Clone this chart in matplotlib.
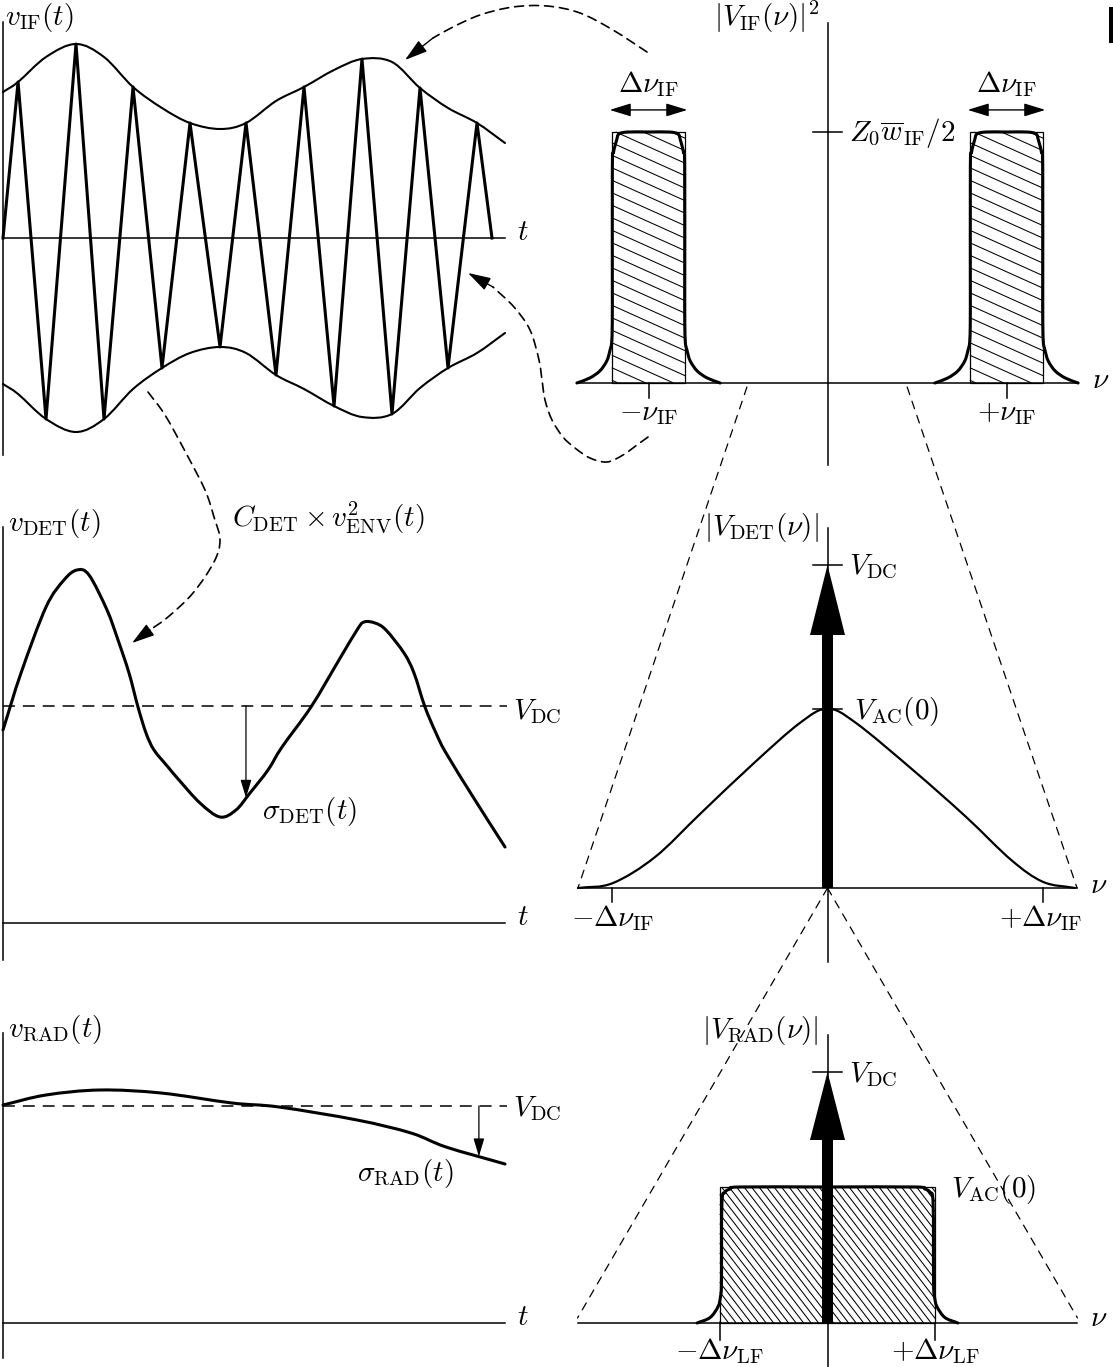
import numpy as np
import matplotlib
matplotlib.use("Agg")
import matplotlib.pyplot as plt
from matplotlib.path import Path
from matplotlib.patches import PathPatch, Rectangle, FancyArrow, ConnectionPatch
from matplotlib.collections import LineCollection

plt.rcParams["mathtext.fontset"] = "cm"
plt.rcParams["font.family"] = ["DejaVu Serif"]

# ---------------------------------------------------------------- data
# IF voltage: envelope amplitude and carrier turning points (arbitrary units)
env_t = [0.0, 0.30, 0.857, 1.454, 2.012, 2.590, 3.167, 3.725, 4.323, 4.841,
         5.438, 5.996, 6.594, 7.151, 7.749, 8.307, 8.865, 9.442, 10.0]
env_amp = [0.73, 0.78, 0.905, 0.97, 0.905, 0.755, 0.65, 0.575, 0.545, 0.575,
           0.685, 0.755, 0.84, 0.895, 0.88, 0.75, 0.65, 0.575, 0.475]
carrier_t = [0.0, 0.30, 0.857, 1.454, 2.012, 2.590, 3.167, 3.725, 4.323, 4.841,
             5.438, 5.996, 6.594, 7.151, 7.749, 8.307, 8.865, 9.442, 9.741]
carrier_v = [0.0, 0.78, -0.905, 0.97, -0.905, 0.755, -0.65, 0.575, -0.545, 0.575,
             -0.685, 0.755, -0.84, 0.895, -0.88, 0.75, -0.65, 0.575, 0.0]

# detector output voltage
V_DC = 1.085
det_t = [0.0, 0.359, 0.857, 1.215, 1.474, 1.713, 2.072, 2.291, 2.51, 2.689, 2.849,
         3.008, 3.287, 3.506, 3.924, 4.323, 4.641, 4.92, 5.279, 5.558, 6.135, 6.693,
         7.052, 7.191, 7.41, 7.629, 7.988, 8.187, 8.406, 8.625, 8.825, 9.402, 10.0]
det_v = [0.965, 1.25, 1.58, 1.715, 1.765, 1.74, 1.565, 1.415, 1.25, 1.08, 0.95,
         0.865, 0.78, 0.715, 0.6, 0.53, 0.565, 0.65, 0.765, 0.88, 1.08, 1.315,
         1.465, 1.505, 1.5, 1.465, 1.35, 1.25, 1.08, 0.95, 0.85, 0.615, 0.38]
sigma_det_t = 4.84

# post-detection (radiometer) output voltage
rad_t = [0.0, 0.857, 1.932, 3.147, 4.562, 5.498, 7.052, 8.127, 8.825, 10.0]
rad_v = [1.09, 1.14, 1.165, 1.15, 1.10, 1.08, 1.015, 0.95, 0.88, 0.795]
sigma_rad_t = 9.48

# IF power spectrum (frequency in units of nu_IF, level in units of Z0*w_IF/2)
nu_IF = 1.0
dnu_IF = 0.41
if_level = 1.0
if_prof_dnu = [0.0, 0.115, 0.165, 0.178, 0.195, 0.202, 0.202, 0.205, 0.215, 0.233, 0.272, 0.328, 0.40]
if_prof_lvl = [1.0, 1.0, 0.992, 0.968, 0.92, 0.857, 0.31, 0.171, 0.131, 0.088, 0.048, 0.02, 0.0]

# detector output spectrum (frequency in units of delta nu_IF, level in units of V_DC)
V_AC0_det = 0.555
det_nu = [-1.158, -0.997, -0.80, -0.587, -0.341, -0.128, 0.0, 0.132, 0.397, 0.643, 0.852, 1.0, 1.148]
det_lvl = [0.0, 0.015, 0.096, 0.232, 0.387, 0.511, V_AC0_det, 0.511, 0.365, 0.22, 0.087, 0.019, 0.0]

# radiometer output spectrum (frequency in units of delta nu_IF, level in units of V_DC)
dnu_LF = 0.5
V_AC0_rad = 0.542
lf_prof_dnu = [0.0, 0.405, 0.452, 0.476, 0.490, 0.492, 0.497, 0.508, 0.545, 0.605]
lf_prof_lvl = [1.0, 1.0, 0.985, 0.96, 0.88, 0.30, 0.19, 0.12, 0.04, 0.0]

# ---------------------------------------------------------------- helpers
W, H = 1113, 1367
FS = 21
fig = plt.figure(figsize=(W / 100, H / 100), dpi=100)
fig.patch.set_facecolor("white")


def panel(ox, oy, sx, sy):
    """Full-figure axes whose data origin sits at pixel (ox, oy), sx/sy px per unit."""
    ax = fig.add_axes([0, 0, 1, 1])
    ax.set_xlim(-ox / sx, (W - ox) / sx)
    ax.set_ylim((oy - H) / sy, oy / sy)
    ax.axis("off")
    ax.patch.set_alpha(0)
    ax.sx, ax.sy = sx, sy
    return ax


def smooth(x, y):
    P = np.column_stack([x, y]).astype(float)
    T = np.zeros_like(P)
    T[1:-1] = (P[2:] - P[:-2]) / 2
    T[0] = P[1] - P[0]
    T[-1] = P[-1] - P[-2]
    verts, codes = [P[0]], [Path.MOVETO]
    for i in range(len(P) - 1):
        verts += [P[i] + T[i] / 3, P[i + 1] - T[i + 1] / 3, P[i + 1]]
        codes += [Path.CURVE4] * 3
    return Path(verts, codes)


def curve(ax, x, y, lw, ls="-", z=3):
    ax.add_patch(PathPatch(smooth(x, y), fill=False, lw=lw, ls=ls, ec="k",
                           capstyle="round", joinstyle="round", zorder=z))


def arrow(ax, start, tip, lw=1.0, hl=1.1, hw=0.33, style="-|>"):
    ax.annotate("", xy=tip, xytext=start,
                arrowprops=dict(arrowstyle=f"{style},head_length={hl},head_width={hw}",
                                lw=lw, color="k", shrinkA=0, shrinkB=0,
                                mutation_scale=10), zorder=5)


def hatch(ax, x0, x1, y0, y1, spacing, slope, lw=0.75):
    """Diagonal hatching (down to the right) inside a rectangle, plus its outline."""
    wpx, hpx = (x1 - x0) * ax.sx, (y1 - y0) * ax.sy
    segs = []
    for c in np.arange(-slope * wpx + spacing / 2, hpx, spacing):
        xa = max(0.0, -c / slope)
        xb = min(wpx, (hpx - c) / slope)
        if xb <= xa:
            continue
        segs.append([(x0 + xa / ax.sx, y1 - (c + slope * xa) / ax.sy),
                     (x0 + xb / ax.sx, y1 - (c + slope * xb) / ax.sy)])
    ax.add_collection(LineCollection(segs, colors="k", linewidths=lw, zorder=1))
    ax.add_patch(Rectangle((x0, y0), x1 - x0, y1 - y0, fill=False, lw=0.9, ec="k", zorder=2))


def band(center, prof_d, prof_l, scale):
    d = np.asarray(prof_d)
    l = np.asarray(prof_l) * scale
    x = np.concatenate([center - d[::-1], center + d[1:]])
    y = np.concatenate([l[::-1], l[1:]])
    return x, y


AX_LW = 1.1
DASH_C = (0, (5.4, 3.6))
DASH_DC = (0, (7.8, 5.2))
DASH_Z = (0, (6.4, 5.6))

# ---------------------------------------------------------------- v_IF(t)
axA = panel(3, 238, 50.2, 200)
axA.plot([0, 0], [1.08, -1.085], color="k", lw=AX_LW)
axA.plot([0, 10], [0, 0], color="k", lw=AX_LW)
axA.plot(carrier_t, carrier_v, color="k", lw=2.2, solid_joinstyle="round")
curve(axA, env_t, env_amp, 1.5)
curve(axA, env_t, -np.asarray(env_amp), 1.5)
axA.text(0.03, 1.10, r"$v_{\rm IF}(t)$", fontsize=FS, ha="left", va="center")
axA.text(10.36, 0.03, r"$t$", fontsize=FS, ha="center", va="center")

# ---------------------------------------------------------------- v_DET(t)
axB = panel(3, 923, 50.2, 200)
axB.plot([0, 0], [1.98, -0.185], color="k", lw=AX_LW)
axB.plot([0, 10], [0, 0], color="k", lw=AX_LW)
axB.plot([0, 10.04], [V_DC, V_DC], color="k", lw=1.1, ls=DASH_DC)
curve(axB, det_t, det_v, 2.2)
arrow(axB, (sigma_det_t, V_DC), (sigma_det_t, np.interp(sigma_det_t, det_t, det_v)), lw=0.9)
axB.text(0.1, 2.0, r"$v_{\rm DET}(t)$", fontsize=FS, ha="left", va="center")
axB.text(10.36, 0.03, r"$t$", fontsize=FS, ha="center", va="center")
axB.text(10.16, V_DC - 0.03, r"$V_{\rm DC}$", fontsize=FS, ha="left", va="center")
axB.text(5.16, 0.56, r"$\sigma_{\rm DET}(t)$", fontsize=FS, ha="left", va="center")
axB.text(4.56, 2.03, r"$C_{\rm DET}\times v^2_{\rm ENV}(t)$", fontsize=FS, ha="left", va="center")

# ---------------------------------------------------------------- v_RAD(t)
axC = panel(3, 1323, 50.2, 200)
axC.plot([0, 0], [1.45, -0.175], color="k", lw=AX_LW)
axC.plot([0, 10], [0, 0], color="k", lw=AX_LW)
axC.plot([0, 10.04], [V_DC, V_DC], color="k", lw=1.1, ls=DASH_DC)
curve(axC, rad_t, rad_v, 2.2)
arrow(axC, (sigma_rad_t, V_DC), (sigma_rad_t, np.interp(sigma_rad_t, rad_t, rad_v)), lw=0.9)
axC.text(0.1, 1.465, r"$v_{\rm RAD}(t)$", fontsize=FS, ha="left", va="center")
axC.text(10.36, 0.03, r"$t$", fontsize=FS, ha="center", va="center")
axC.text(10.16, V_DC - 0.015, r"$V_{\rm DC}$", fontsize=FS, ha="left", va="center")
axC.text(7.05, 0.75, r"$\sigma_{\rm RAD}(t)$", fontsize=FS, ha="left", va="center")

# ---------------------------------------------------------------- |V_IF(nu)|^2
axA2 = panel(827.5, 383, 179, 251)
axA2.plot([0, 0], [1.434, -0.327], color="k", lw=AX_LW)
axA2.plot([-1.4, 1.4], [0, 0], color="k", lw=AX_LW)
for c in (-nu_IF, nu_IF):
    hatch(axA2, c - dnu_IF / 2, c + dnu_IF / 2, 0, if_level, spacing=12.5, slope=0.45)
    bx, by = band(c, if_prof_dnu, if_prof_lvl, if_level)
    curve(axA2, bx, by, 2.2)
    axA2.plot([c, c], [0, -0.06], color="k", lw=AX_LW)
    arrow(axA2, (c - dnu_IF / 2 - 0.012, 1.088), (c + dnu_IF / 2 + 0.012, 1.088),
          lw=1.0, hl=1.3, hw=0.4, style="<|-|>")
    axA2.text(c, 1.19, r"$\Delta\nu_{\rm IF}$", fontsize=FS, ha="center", va="center")
axA2.plot([-0.081, 0.081], [if_level, if_level], color="k", lw=AX_LW)
axA2.text(0.12, 0.996, r"$Z_0\overline{w}_{\rm IF}/2$", fontsize=FS, ha="left", va="center")
axA2.text(-0.047, 1.458, r"$|V_{\rm IF}(\nu)|^2$", fontsize=FS, ha="right", va="center")
axA2.text(-nu_IF, -0.12, r"$-\nu_{\rm IF}$", fontsize=FS, ha="center", va="center")
axA2.text(nu_IF, -0.12, r"$+\nu_{\rm IF}$", fontsize=FS, ha="center", va="center")
axA2.text(1.48, 0.012, r"$\nu$", fontsize=FS, ha="left", va="center")
axA2.add_patch(Rectangle((1.572, 1.355), 0.04, 0.143, color="k", lw=0))

# ---------------------------------------------------------------- |V_DET(nu)|
axB2 = panel(827.5, 888, 215.5, 323)
axB2.plot([0, 0], [1.115, -0.229], color="k", lw=AX_LW)
axB2.plot([-1.158, 1.158], [0, 0], color="k", lw=AX_LW)
curve(axB2, det_nu, det_lvl, 1.6)
for c in (-1.0, 1.0):
    axB2.plot([c, c], [0, -0.043], color="k", lw=AX_LW)
axB2.add_patch(FancyArrow(0, 0, 0, 1.0, width=11 / 215.5, head_width=35 / 215.5,
                          head_length=70 / 323, length_includes_head=True,
                          color="k", lw=0, zorder=4))
axB2.plot([-0.067, 0.067], [1.0, 1.0], color="k", lw=AX_LW, zorder=5)
axB2.plot([-0.067, 0.067], [V_AC0_det, V_AC0_det], color="k", lw=AX_LW, zorder=5)
axB2.text(-0.04, 1.115, r"$|V_{\rm DET}(\nu)|$", fontsize=FS, ha="right", va="center")
axB2.text(0.1, 0.994, r"$V_{\rm DC}$", fontsize=FS, ha="left", va="center")
axB2.text(0.125, 0.545, r"$V_{\rm AC}(0)$", fontsize=FS, ha="left", va="center")
axB2.text(-0.996, -0.093, r"$-\Delta\nu_{\rm IF}$", fontsize=FS, ha="center", va="center")
axB2.text(0.99, -0.093, r"$+\Delta\nu_{\rm IF}$", fontsize=FS, ha="center", va="center")
axB2.text(1.22, 0.01, r"$\nu$", fontsize=FS, ha="left", va="center")

# ---------------------------------------------------------------- |V_RAD(nu)|
axC2 = panel(827.5, 1323, 215.5, 251)
axC2.plot([0, 0], [1.147, -0.175], color="k", lw=AX_LW)
axC2.plot([-1.158, 1.158], [0, 0], color="k", lw=AX_LW)
hatch(axC2, -dnu_LF, dnu_LF, 0, V_AC0_rad, spacing=9.75, slope=1.3)
bx, by = band(0.0, lf_prof_dnu, lf_prof_lvl, V_AC0_rad)
curve(axC2, bx, by, 2.2)
for c in (-dnu_LF, dnu_LF):
    axC2.plot([c, c], [0, -0.068], color="k", lw=AX_LW)
axC2.add_patch(FancyArrow(0, 0, 0, 1.0, width=11 / 215.5, head_width=35 / 215.5,
                          head_length=68 / 251, length_includes_head=True,
                          color="k", lw=0, zorder=4))
axC2.plot([-0.067, 0.067], [1.0, 1.0], color="k", lw=AX_LW, zorder=5)
axC2.text(-0.04, 1.167, r"$|V_{\rm RAD}(\nu)|$", fontsize=FS, ha="right", va="center")
axC2.text(0.1, 0.988, r"$V_{\rm DC}$", fontsize=FS, ha="left", va="center")
axC2.text(0.573, 0.53, r"$V_{\rm AC}(0)$", fontsize=FS, ha="left", va="center")
axC2.text(-dnu_LF, -0.112, r"$-\Delta\nu_{\rm LF}$", fontsize=FS, ha="center", va="center")
axC2.text(dnu_LF, -0.112, r"$+\Delta\nu_{\rm LF}$", fontsize=FS, ha="center", va="center")
axC2.text(1.22, 0.02, r"$\nu$", fontsize=FS, ha="left", va="center")

# ---------------------------------------------------------------- connectors
# zoom lines from the IF spectrum down to the detector spectrum and on to the output
for (pa, pb) in [((-0.45, -0.016), (-1.158, 0.0)), ((0.445, -0.016), (1.158, 0.0))]:
    fig.add_artist(ConnectionPatch(pa, pb, coordsA=axA2.transData, coordsB=axB2.transData,
                                   lw=0.9, ls=DASH_Z, color="k"))
for pb in [(-1.16, 0.02), (1.16, 0.02)]:
    fig.add_artist(ConnectionPatch((0.0, 0.0), pb, coordsA=axB2.transData,
                                   coordsB=axC2.transData, lw=0.9, ls=DASH_Z, color="k"))

# envelope pointer (spectrum -> upper envelope)
top_t = [12.829, 12.151, 11.494, 10.837, 10.159, 9.502, 8.964, 8.566]
top_v = [0.93, 1.04, 1.125, 1.16, 1.155, 1.115, 1.055, 1.0]
curve(axA, top_t, top_v, 1.2, ls=DASH_C)
arrow(axA, (8.566, 1.0), (8.008, 0.89), lw=1.0, hl=1.4, hw=0.42)

# carrier pointer (IF band -> carrier)
arc_t = [12.849, 12.629, 12.351, 12.032, 11.693, 11.394, 11.155, 10.936, 10.797,
         10.737, 10.677, 10.498, 10.179, 9.761]
arc_v = [-0.995, -1.035, -1.085, -1.12, -1.10, -1.05, -0.995, -0.91, -0.81,
         -0.71, -0.61, -0.46, -0.345, -0.245]
curve(axA, arc_t, arc_v, 1.2, ls=DASH_C)
arrow(axA, (9.761, -0.245), (9.263, -0.175), lw=1.0, hl=1.4, hw=0.42)

# square-law pointer (envelope -> detector output)
sq_t = [2.888, 3.227, 3.645, 4.024, 4.203, 4.323, 4.203, 3.785, 3.287, 2.928]
sq_v = [2.655, 2.54, 2.35, 2.165, 2.03, 1.915, 1.805, 1.65, 1.53, 1.465]
curve(axB, sq_t, sq_v, 1.2, ls=DASH_C)
arrow(axB, (2.928, 1.465), (2.57, 1.40), lw=1.0, hl=1.4, hw=0.42)

fig.savefig("out.png", dpi=100, facecolor="white")
